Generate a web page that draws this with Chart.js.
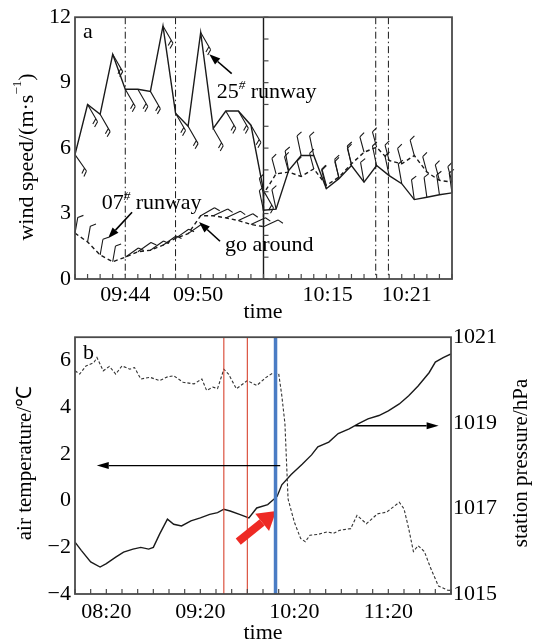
<!DOCTYPE html>
<html>
<head>
<meta charset="utf-8">
<script src="https://cdn.jsdelivr.net/npm/chart.js@4.4.1/dist/chart.umd.min.js"></script>
<style>
  html, body { margin: 0; padding: 0; background: #fff; }
  #wrap { position: relative; width: 534px; height: 644px; }
  canvas { position: absolute; left: 0; }
  #windChart { top: 0; }
  #metChart { top: 320px; }
</style>
</head>
<body>
<div id="wrap">
  <canvas id="windChart" width="534" height="320"></canvas>
  <canvas id="metChart" width="534" height="324"></canvas>
</div>
<script>
// ---- panel a: wind at both runway ends (x = sample index, 1.5 min steps then 1 min steps) ----
const windTicks = ['09:44', '09:50', '10:15', '10:21'];
const windTickAt = [4, 9.8, 20.1, 26.4];
const windEvents = [4, 8, 23.93, 24.94];   // dash-dot lines
const windBreak = 15;                      // axis break between the two periods

const wind25a = [5.7, 8.0, 7.55, 10.3, 8.7, 8.7, 8.6, 11.6, 7.6, 7.0, 11.3, 6.9, 7.7, 7.7, 7.05, 4.05];
const wind25b = [3.15, 3.2, 4.97, 5.66, 5.66, 4.14, 4.6, 5.2, 4.44, 5.2, 4.74, 4.37, 3.64, 3.75, 3.86, 3.95];
const wind07a = [2.1, 1.7, 1.1, 0.79, 1.0, 1.25, 1.32, 1.55, 1.86, 2.08, 2.9, 2.9, 2.8, 2.68, 2.5, 2.4];
const wind07b = [3.9, 4.82, 4.9, 4.7, 5.05, 4.29, 4.67, 5.28, 5.81, 6.04, 5.43, 5.28, 5.66, 4.9, 4.52, 4.44];

// barb staff direction (deg, clockwise from up) and feather count per point
const barb25 = [145, 150, 150, 150, 150, 150, 150, 150, 150, 150, 150, 150, 150, 150, 150, 150,
  -12, -12, -10, -12, -12, -14, -12, -12, -10, -12, -12, -10, -8, -8, -8, -8];
const feather25 = [2, 2, 2, 2, 2, 2, 2, 2, 2, 2, 2, 2, 2, 2, 2, 2,
  1, 1, 1, 1, 1, 1, 1, 1, 1, 1, 1, 1, 1, 1, 1, 1];
const barb07 = [10, 10, 10, 10, 55, 55, 55, 55, 55, 55, 60, 65, 65, 65, 65, 65,
  -15, -15, -15, -15, -15, -15, -15, -15, -15, -15, -15, -15, -15, -15, -15, -15];
const feather07 = [1, 1, 1, 1, 1, 1, 1, 1, 1, 1, 1, 1, 1, 1, 1, 1,
  1, 1, 1, 1, 1, 1, 1, 1, 1, 1, 1, 1, 1, 1, 1, 1];

// ---- panel b: air temperature and station pressure (time in minutes of day) ----
const timeTicks = ['08:20', '09:20', '10:20', '11:20'];
const timeTickAt = [500, 560, 620, 680];
const tempTicks = [-4, -2, 0, 2, 4, 6];
const presTicks = [1015, 1017, 1019, 1021];
const redEvents = [575, 590];
const blueEvent = 608;

const tempTime = [480, 483, 487, 492, 494, 498, 502, 506, 510, 515, 518, 522, 528, 534, 539, 543, 549, 556, 561, 564,
  568, 571, 575, 578, 583, 590, 596, 602, 606, 610, 612, 614, 616, 620, 624, 627, 630, 635, 641, 645,
  649, 656, 660, 666, 673, 679, 687, 690, 693, 696, 699, 703, 707, 712, 718, 720];
const temp = [5.56, 5.42, 5.77, 5.91, 6.13, 5.56, 5.75, 5.42, 5.77, 5.63, 5.70, 5.21, 5.28, 5.14, 5.30, 5.35, 5.07, 5.00, 5.21, 4.72,
  4.86, 4.80, 5.63, 5.42, 4.79, 5.14, 4.93, 5.28, 5.45, 5.45, 4.50, 3.30, 0.07, -0.92, -1.62, -1.76, -1.48, -1.45, -1.34, -1.40,
  -1.27, -1.20, -0.63, -0.99, -0.57, -0.49, -0.07, -0.35, -1.20, -2.18, -1.93, -2.18, -2.89, -3.66, -3.84, -3.85];

const presTime = [480, 484, 490, 496, 500, 506, 511, 517, 522, 527, 530, 534, 539, 543, 548, 554, 560, 566, 571, 575,
  579, 585, 591, 596, 603, 609, 612, 618, 625, 631, 635, 642, 648, 655, 661, 667, 674, 680, 687, 693,
  699, 706, 710, 715, 720];
const pres = [1016.21, 1016.02, 1015.75, 1015.63, 1015.71, 1015.86, 1015.98, 1016.05, 1016.09, 1016.05,
  1016.09, 1016.40, 1016.75, 1016.63, 1016.59, 1016.71, 1016.78, 1016.86, 1016.90, 1016.98,
  1016.94, 1016.86, 1016.78, 1017.01, 1017.09, 1017.28, 1017.55, 1017.79, 1018.03, 1018.25,
  1018.44, 1018.55, 1018.75, 1018.86, 1018.98, 1019.09, 1019.17, 1019.28, 1019.44, 1019.63,
  1019.86, 1020.17, 1020.42, 1020.52, 1020.61];

const ink = '#1a1a1a';
const frameInk = '#4a4a4a';
const serif = '"Liberation Serif", "Times New Roman", serif';
const fnt = (size, style) => (style ? style + ' ' : '') + size + 'px ' + serif;

// parts: [text, size, dy, italic]
function richText(ctx, parts, x, y, align) {
  let w = 0;
  parts.forEach(p => { ctx.font = fnt(p[1], p[3] ? 'italic' : ''); w += ctx.measureText(p[0]).width; });
  let cx = align === 'center' ? x - w / 2 : x;
  ctx.textAlign = 'left';
  parts.forEach(p => {
    ctx.font = fnt(p[1], p[3] ? 'italic' : '');
    ctx.fillText(p[0], cx, y + (p[2] || 0));
    cx += ctx.measureText(p[0]).width;
  });
}

function arrow(ctx, x1, y1, x2, y2, lw, hl, hw, color) {
  const a = Math.atan2(y2 - y1, x2 - x1);
  const bx = x2 - Math.cos(a) * hl, by = y2 - Math.sin(a) * hl;
  ctx.save();
  ctx.strokeStyle = color; ctx.fillStyle = color; ctx.lineWidth = lw; ctx.setLineDash([]);
  ctx.beginPath(); ctx.moveTo(x1, y1); ctx.lineTo(bx, by); ctx.stroke();
  ctx.beginPath();
  ctx.moveTo(x2, y2);
  ctx.lineTo(bx + Math.sin(a) * hw / 2, by - Math.cos(a) * hw / 2);
  ctx.lineTo(bx - Math.sin(a) * hw / 2, by + Math.cos(a) * hw / 2);
  ctx.closePath(); ctx.fill();
  ctx.restore();
}

const framePlugin = {
  id: 'frame',
  afterDraw(chart, args, opts) {
    const { ctx, chartArea: ca } = chart;
    ctx.save();
    ctx.strokeStyle = frameInk; ctx.lineWidth = 1.2; ctx.setLineDash([]);
    (opts.ticks || []).forEach(t => {
      const s = chart.scales[t.scale];
      for (let v = s.min; v <= s.max + 1e-6; v += t.step) {
        const p = s.getPixelForValue(v);
        ctx.beginPath();
        if (s.isHorizontal()) {
          ctx.moveTo(p, ca.bottom); ctx.lineTo(p, ca.bottom - 5);
        } else {
          const x0 = t.at != null ? chart.scales.x.getPixelForValue(t.at) : (t.dir > 0 ? ca.left : ca.right);
          ctx.moveTo(x0, p); ctx.lineTo(x0 + t.dir * 5, p);
        }
        ctx.stroke();
      }
    });
    ctx.lineWidth = 1.8;
    ctx.strokeRect(ca.left, ca.top, ca.right - ca.left, ca.bottom - ca.top);
    ctx.fillStyle = '#000';
    ctx.textBaseline = 'middle';
    (opts.titles || []).forEach(t => {
      ctx.save();
      ctx.translate(t.x, t.y);
      if (t.rotate) ctx.rotate(-Math.PI / 2);
      richText(ctx, t.parts, 0, 0, 'center');
      ctx.restore();
    });
    ctx.restore();
  }
};

const barbPlugin = {
  id: 'barbs',
  afterDatasetsDraw(chart) {
    const ctx = chart.ctx;
    ctx.save();
    ctx.strokeStyle = ink; ctx.lineWidth = 1.1; ctx.setLineDash([]);
    chart.data.datasets.forEach((ds, di) => {
      if (!ds.barbs) return;
      chart.getDatasetMeta(di).data.forEach((el, i) => {
        const a = ds.barbs[i] * Math.PI / 180, L = ds.barbLen;
        const ux = Math.sin(a), uy = -Math.cos(a);
        const tx = el.x + ux * L, ty = el.y + uy * L;
        const f = a + Math.PI / 3;
        ctx.beginPath();
        ctx.moveTo(el.x, el.y); ctx.lineTo(tx, ty);
        for (let j = 0; j < ds.feathers[i]; j++) {
          const bx = tx - ux * 3.5 * j, by = ty - uy * 3.5 * j;
          ctx.moveTo(bx, by); ctx.lineTo(bx + Math.sin(f) * 6, by - Math.cos(f) * 6);
        }
        ctx.stroke();
      });
    });
    ctx.restore();
  }
};

// vertical markers and notes of panel a
const windMarks = {
  id: 'windMarks',
  beforeDatasetsDraw(chart) {
    const { ctx, chartArea: ca, scales: { x } } = chart;
    ctx.save();
    ctx.strokeStyle = ink; ctx.lineWidth = 1;
    ctx.setLineDash([7, 3, 1.5, 3]);
    windEvents.forEach(v => {
      const px = x.getPixelForValue(v);
      ctx.beginPath(); ctx.moveTo(px, ca.top); ctx.lineTo(px, ca.bottom); ctx.stroke();
    });
    ctx.setLineDash([]);
    ctx.lineWidth = 1.4;
    const bx = x.getPixelForValue(windBreak);
    ctx.beginPath(); ctx.moveTo(bx, ca.top); ctx.lineTo(bx, ca.bottom); ctx.stroke();
    ctx.restore();
  },
  afterDraw(chart) {
    const { ctx, scales: { x, y } } = chart;
    const P = (k, v) => [x.getPixelForValue(k), y.getPixelForValue(v)];
    ctx.save();
    ctx.fillStyle = '#000';
    ctx.textBaseline = 'alphabetic';
    let p = P(0.64, 11.04);
    richText(ctx, [['a', 22]], p[0], p[1]);
    p = P(11.27, 8.30);
    richText(ctx, [['25', 22], ['#', 13, -9, true], [' runway', 22]], p[0], p[1]);
    p = P(2.12, 3.19);
    richText(ctx, [['07', 22], ['#', 13, -9, true], [' runway', 22]], p[0], p[1]);
    p = P(11.93, 1.28);
    richText(ctx, [['go around', 22]], p[0], p[1]);
    [[12.47, 9.41, 10.69, 10.30], [4.54, 3.06, 2.63, 1.87], [11.54, 1.73, 9.87, 2.61]].forEach(a => {
      const s = P(a[0], a[1]), e = P(a[2], a[3]);
      arrow(ctx, s[0], s[1], e[0], e[1], 1.6, 11, 8, '#000');
    });
    ctx.restore();
  }
};

// markers and notes of panel b
const metMarks = {
  id: 'metMarks',
  afterDatasetsDraw(chart) {
    const { ctx, chartArea: ca, scales: { x, y } } = chart;
    const P = (m, v) => [x.getPixelForValue(m), y.getPixelForValue(v)];
    ctx.save();
    ctx.strokeStyle = '#d8432f'; ctx.lineWidth = 1.1; ctx.setLineDash([]);
    redEvents.forEach(m => {
      const px = x.getPixelForValue(m);
      ctx.beginPath(); ctx.moveTo(px, ca.top); ctx.lineTo(px, ca.bottom); ctx.stroke();
    });
    let s = P(584.2, -1.76), e = P(608.4, -0.45);
    arrow(ctx, s[0], s[1], e[0], e[1], 8, 18, 22, '#ee2a24');
    ctx.strokeStyle = '#4a7cc4'; ctx.lineWidth = 3.5;
    const bx = x.getPixelForValue(blueEvent);
    ctx.beginPath(); ctx.moveTo(bx, ca.top); ctx.lineTo(bx, ca.bottom); ctx.stroke();
    s = P(611, 1.5); e = P(493.9, 1.5);
    arrow(ctx, s[0], s[1], e[0], e[1], 1.4, 12, 7, '#000');
    s = P(658.9, 3.21); e = P(712.1, 3.21);
    arrow(ctx, s[0], s[1], e[0], e[1], 1.4, 12, 7, '#000');
    ctx.fillStyle = '#000';
    ctx.textBaseline = 'alphabetic';
    const p = P(485.1, 6.05);
    richText(ctx, [['b', 22]], p[0], p[1]);
    ctx.restore();
  }
};

const tickFont = { family: serif, size: 22 };
const minus = v => (v < 0 ? '\u2212' + Math.abs(v) : String(v));

new Chart(document.getElementById('windChart'), {
  type: 'line',
  data: {
    datasets: [
      {
        label: '25# runway',
        data: wind25a.map((v, i) => ({ x: i, y: v })).concat(wind25b.map((v, i) => ({ x: windBreak + i, y: v }))),
        borderColor: ink, borderWidth: 1.4, pointRadius: 0, tension: 0,
        barbs: barb25, feathers: feather25, barbLen: 20,
      },
      {
        label: '07# runway',
        data: wind07a.map((v, i) => ({ x: i, y: v })).concat(wind07b.map((v, i) => ({ x: windBreak + i, y: v }))),
        borderColor: ink, borderWidth: 1.4, borderDash: [4, 3], pointRadius: 0, tension: 0,
        barbs: barb07, feathers: feather07, barbLen: 16,
      },
    ],
  },
  options: {
    responsive: false, animation: false, devicePixelRatio: 1,
    layout: { padding: { top: 16, right: 82, left: 0, bottom: 0 } },
    plugins: {
      legend: { display: false }, tooltip: { enabled: false },
      frame: {
        ticks: [{ scale: 'x', step: 1 }, { scale: 'y', step: 1, dir: 1 }, { scale: 'y', step: 1, dir: 1, at: windBreak }],
        titles: [
          { x: 27, y: 157, rotate: true, parts: [['wind speed/(m·s', 22], ['\u22121', 13, -9], [')', 22]] },
          { x: 263, y: 312, parts: [['time', 22]] },
        ],
      },
    },
    scales: {
      x: {
        type: 'linear', min: 0, max: 30,
        afterBuildTicks: s => { s.ticks = windTickAt.map(v => ({ value: v })); },
        afterFit: s => { s.height = 41; },
        ticks: { callback: (v, i) => windTicks[i], font: tickFont, color: '#000', autoSkip: false, maxRotation: 0, padding: 3 },
        grid: { display: false, drawTicks: false }, border: { display: false },
      },
      y: {
        min: 0, max: 12,
        afterBuildTicks: s => { s.ticks = [0, 3, 6, 9, 12].map(v => ({ value: v })); },
        afterFit: s => { s.width = 75; },
        ticks: { callback: v => String(v), font: tickFont, color: '#000', padding: 4 },
        grid: { display: false, drawTicks: false }, border: { display: false },
      },
    },
  },
  plugins: [windMarks, barbPlugin, framePlugin],
});

new Chart(document.getElementById('metChart'), {
  type: 'line',
  data: {
    datasets: [
      {
        label: 'air temperature',
        data: tempTime.map((t, i) => ({ x: t, y: temp[i] })),
        yAxisID: 'y', borderColor: '#333', borderWidth: 1.1, borderDash: [3, 2], pointRadius: 0, tension: 0,
      },
      {
        label: 'station pressure',
        data: presTime.map((t, i) => ({ x: t, y: pres[i] })),
        yAxisID: 'y1', borderColor: ink, borderWidth: 1.4, pointRadius: 0, tension: 0,
      },
    ],
  },
  options: {
    responsive: false, animation: false, devicePixelRatio: 1,
    layout: { padding: { top: 14, right: 0, left: 0, bottom: 0 } },
    plugins: {
      legend: { display: false }, tooltip: { enabled: false },
      frame: {
        ticks: [{ scale: 'x', step: 10 }, { scale: 'y', step: 1, dir: 1 }, { scale: 'y1', step: 0.5, dir: -1 }],
        titles: [
          { x: 25, y: 143, rotate: true, parts: [['air temperature/\u2103', 21]] },
          { x: 521, y: 143, rotate: true, parts: [['station pressure/hPa', 21]] },
          { x: 263, y: 313, parts: [['time', 22]] },
        ],
      },
    },
    scales: {
      x: {
        type: 'linear', min: 480, max: 720,
        afterBuildTicks: s => { s.ticks = timeTickAt.map(v => ({ value: v })); },
        afterFit: s => { s.height = 50; },
        ticks: { callback: (v, i) => timeTicks[i], font: tickFont, color: '#000', autoSkip: false, maxRotation: 0, padding: 5 },
        grid: { display: false, drawTicks: false }, border: { display: false },
      },
      y: {
        position: 'left', min: -4, max: 7,
        afterBuildTicks: s => { s.ticks = tempTicks.map(v => ({ value: v })); },
        afterFit: s => { s.width = 75; },
        ticks: { callback: minus, font: tickFont, color: '#000', padding: 4 },
        grid: { display: false, drawTicks: false }, border: { display: false },
      },
      y1: {
        position: 'right', min: 1015, max: 1021,
        afterBuildTicks: s => { s.ticks = presTicks.map(v => ({ value: v })); },
        afterFit: s => { s.width = 83; },
        ticks: { callback: v => String(v), font: tickFont, color: '#000', padding: 2 },
        grid: { display: false, drawTicks: false }, border: { display: false },
      },
    },
  },
  plugins: [metMarks, framePlugin],
});
</script>
</body>
</html>
